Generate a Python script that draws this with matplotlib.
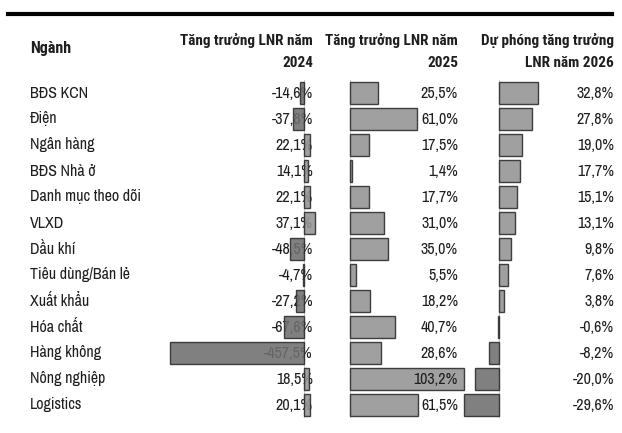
import matplotlib.pyplot as plt
from matplotlib.transforms import blended_transform_factory

# data
sectors = ["BĐS KCN", "Điện", "Ngân hàng", "BĐS Nhà ở", "Danh mục theo dõi", "VLXD",
           "Dầu khí", "Tiêu dùng/Bán lẻ", "Xuất khẩu", "Hóa chất", "Hàng không",
           "Nông nghiệp", "Logistics"]
growth_2024 = [-14.6, -37.8, 22.1, 14.1, 22.1, 37.1, -48.5, -4.7, -27.2, -67.6, -457.5, 18.5, 20.1]
growth_2025 = [25.5, 61.0, 17.5, 1.4, 17.7, 31.0, 35.0, 5.5, 18.2, 40.7, 28.6, 103.2, 61.5]
forecast_2026 = [32.8, 27.8, 19.0, 17.7, 15.1, 13.1, 9.8, 7.6, 3.8, -0.6, -8.2, -20.0, -29.6]
headers = [("Tăng trưởng LNR năm", "2024"),
           ("Tăng trưởng LNR năm", "2025"),
           ("Dự phóng tăng trưởng", "LNR năm 2026")]

plt.rcParams['font.family'] = ['Archivo Narrow', 'Roboto Condensed', 'DejaVu Sans']
BOLD = ['Roboto Condensed', 'DejaVu Sans']

W, H = 622, 433
fig = plt.figure(figsize=(W / 100, H / 100), dpi=100)
fig.patch.set_facecolor("white")


def fx(px):
    return px / W


def fy(py):
    return 1 - py / H


# pixel layout of each column: (axes left, axes right, xlim, label right edge, text z)
columns = [
    (150, 320, (-525.6, 54.6), 313, 2),
    (335, 470, (-13.6, 109.1), 458, 4),
    (455, 560, (-36.7, 50.8), 614, 4),
]
series = [growth_2024, growth_2025, forecast_2026]

top, bottom = 80, 418
n = len(sectors)
axes = []
for (left, right, xlim, lab_x, tz), vals in zip(columns, series):
    ax = fig.add_axes([fx(left), fy(bottom), fx(right - left), (bottom - top) / H])
    ax.set_xlim(*xlim)
    ax.set_ylim(n - 0.5, -0.5)
    ax.axis("off")
    ax.patch.set_alpha(0)
    ax.axvline(0, color="#c8c8c8", lw=0.8, zorder=1)
    colors = ["#6f6f6f" if v < 0 else "#939393" for v in vals]
    ax.barh(range(n), vals, height=0.84, color=colors, edgecolor="#2a2a2a",
            linewidth=1.0, zorder=3, alpha=0.88)
    tr = blended_transform_factory(fig.transFigure, ax.transData)
    for i, v in enumerate(vals):
        ax.text(fx(lab_x), i, f"{v:.1f}%".replace(".", ","), transform=tr,
                ha="right", va="center", fontsize=11.5, color="#1e1e1e", zorder=tz)
    axes.append(ax)

# sector names
tr0 = blended_transform_factory(fig.transFigure, axes[0].transData)
for i, name in enumerate(sectors):
    axes[0].text(fx(30), i, name, transform=tr0, ha="left", va="center",
                 fontsize=11.5, color="#1e1e1e")

# headers
fig.text(fx(30), fy(48), "Ngành", ha="left", va="center", fontsize=11.5,
         fontweight="bold", family=BOLD, color="#1e1e1e")
for (l1, l2), col in zip(headers, columns):
    lab_x = col[3]
    fig.text(fx(lab_x), fy(41), l1, ha="right", va="center", fontsize=11,
             fontweight="bold", family=BOLD, color="#1e1e1e")
    fig.text(fx(lab_x), fy(63), l2, ha="right", va="center", fontsize=11,
             fontweight="bold", family=BOLD, color="#1e1e1e")

# thick rule at the top
fig.add_artist(plt.Line2D([fx(8), fx(612)], [fy(14), fy(14)], color="black", lw=3))

fig.savefig("out.png", dpi=100, facecolor="white")
